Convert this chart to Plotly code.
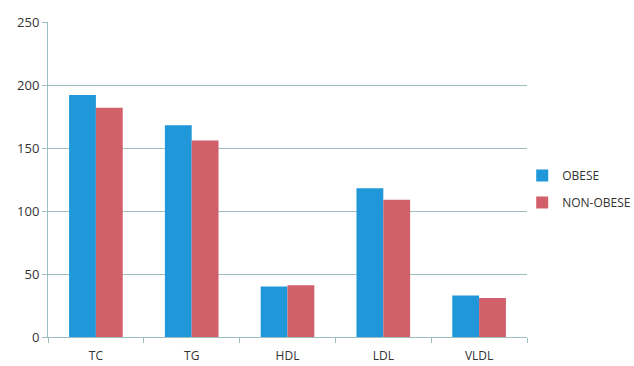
import plotly.graph_objects as go

categories = ["TC", "TG", "HDL", "LDL", "VLDL"]
obese = [192, 168, 40, 118, 33]
non_obese = [182, 156, 41, 109, 31]
y_ticks = [0, 50, 100, 150, 200, 250]

BLUE = "#1f97d8"
RED = "#d2606b"
GRID = "#9cbfc2"

fig = go.Figure()
fig.add_trace(go.Bar(name="OBESE", x=categories, y=obese,
                     marker=dict(color=BLUE, line=dict(width=0)),
                     legendgroup="a"))
fig.add_trace(go.Bar(name="NON-OBESE", x=categories, y=non_obese,
                     marker=dict(color=RED, line=dict(width=0)),
                     legendgroup="b"))

fig.update_layout(
    width=634, height=366,
    margin=dict(l=48, r=107, t=22, b=29, autoexpand=False),
    paper_bgcolor="white", plot_bgcolor="white",
    barmode="group", bargap=0.44, bargroupgap=0,
    font=dict(family="Open Sans, Liberation Sans, sans-serif", color="#333333", size=12),
    legend=dict(x=0.99, xanchor="left", y=0.47, yanchor="middle",
                font=dict(size=12, color="#333333"),
                tracegroupgap=8, itemwidth=30,
                bgcolor="rgba(0,0,0,0)"),
    xaxis=dict(showgrid=False, showline=True, linecolor=GRID, linewidth=1,
               ticks="outside", tickson="boundaries", ticklen=5, tickcolor=GRID,
               ticklabelstandoff=8,
               tickfont=dict(size=12, color="#333333")),
    yaxis=dict(range=[0, 250], tickvals=y_ticks, showgrid=True, gridcolor=GRID,
               gridwidth=1, showline=True, linecolor=GRID, linewidth=1,
               ticks="outside", ticklen=5, tickcolor=GRID, zeroline=False,
               tickfont=dict(size=13, color="#333333")),
)

fig.write_html("out.html")
